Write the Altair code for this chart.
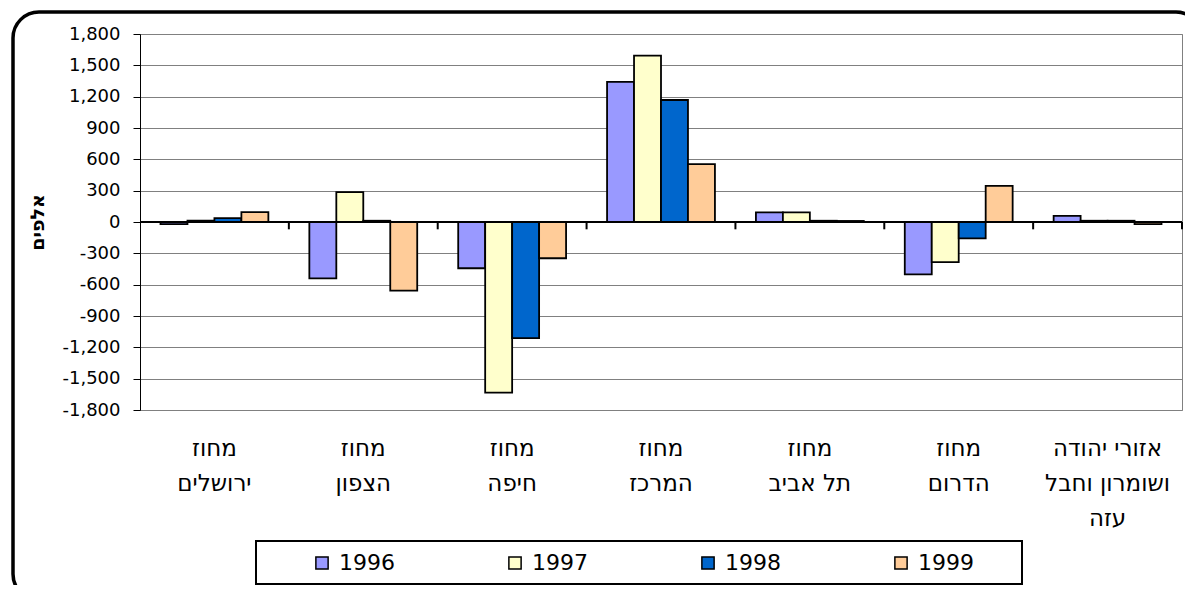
import altair as alt
import pandas as pd

# ---- data ----
categories = ["מחוז|ירושלים", "מחוז|הצפון", "מחוז|חיפה", "מחוז|המרכז",
              "מחוז|תל אביב", "מחוז|הדרום", "אזורי יהודה|ושומרון וחבל|עזה"]
years = ["1996", "1997", "1998", "1999"]
v1996 = [-20, -540, -443, 1341, 93, -502, 58]
v1997 = [12, 286, -1633, 1593, 93, -384, 12]
v1998 = [38, 12, -1111, 1168, 12, -156, 12]
v1999 = [94, -657, -347, 554, 10, 346, -20]
colors = ["#9999FF", "#FFFFCC", "#0066CC", "#FFCC99"]
y_ticks = [-1800, -1500, -1200, -900, -600, -300, 0, 300, 600, 900, 1200, 1500, 1800]
y_title = "אלפים"

rows = []
for yr, vals in zip(years, [v1996, v1997, v1998, v1999]):
    for c, v in zip(categories, vals):
        rows.append({"cat": c, "year": yr, "value": v})
df = pd.DataFrame(rows)
cat_df = pd.DataFrame({"cat": categories})

W, H = 1042, 376
FONT = "DejaVu Sans"

x_scale = alt.Scale(domain=categories, paddingInner=0, paddingOuter=0)
y_scale = alt.Scale(domain=[-1800, 1800], nice=False)

x_axis = alt.Axis(orient="bottom", domain=False, ticks=False, grid=False,
                  labelAngle=0, labelExpr="split(datum.label, '|')",
                  labelFont=FONT, labelFontSize=23, labelColor="black",
                  labelPadding=27, labelBaseline="top", labelLineHeight=35)
y_axis = alt.Axis(values=y_ticks,
                  labelExpr="(datum.value < 0 ? '-' : '') + format(abs(datum.value), ',d')",
                  labelFont=FONT, labelFontSize=18,
                  labelColor="black", labelOverlap=False, labelFlush=False,
                  domainColor="black", domainWidth=1, tickColor="black",
                  tickSize=7, labelPadding=13, gridColor="#808080", gridWidth=1,
                  titleFont=FONT, titleFontSize=19, titleFontWeight="bold",
                  titleColor="black", titlePadding=14)

bars = alt.Chart(df).mark_bar(stroke="black", strokeWidth=1.8).encode(
    x=alt.X("cat:N", scale=x_scale, sort=categories, title=None, axis=x_axis),
    xOffset=alt.XOffset("year:N", sort=years,
                        scale=alt.Scale(paddingInner=0, paddingOuter=0.76)),
    y=alt.Y("value:Q", scale=y_scale, title=y_title, axis=y_axis),
    color=alt.Color("year:N", scale=alt.Scale(domain=years, range=colors),
                    legend=alt.Legend(title=None, orient="none", legendX=171, legendY=518,
                                      direction="horizontal", columns=4, columnPadding=109,
                                      symbolType="square", symbolSize=150,
                                      symbolStrokeColor="black", symbolStrokeWidth=1.5,
                                      labelFont=FONT, labelFontSize=22, labelColor="black",
                                      labelOffset=6, padding=0)),
)

# zero line across the plot
zero_line = alt.Chart(alt.Data(values=[{"k": 1}])).mark_rule(
    color="black", strokeWidth=2
).encode(y=alt.YDatum(0, scale=y_scale, title=y_title, axis=y_axis))

# small category separator ticks hanging below the zero line
sep_ticks = alt.Chart(cat_df).mark_rule(color="black", strokeWidth=2).encode(
    x=alt.X("cat:N", scale=x_scale, sort=categories, bandPosition=1, title=None, axis=x_axis),
    y=alt.YDatum(0, scale=y_scale, title=y_title, axis=y_axis),
    y2=alt.Y2Datum(-70),
)

frame = alt.Chart(alt.Data(values=[{"k": 1}])).mark_rect(
    filled=False, stroke="black", strokeWidth=3.5, cornerRadius=26
).encode(x=alt.value(-127), x2=alt.value(1062), y=alt.value(-22), y2=alt.value(566))

legend_box = alt.Chart(alt.Data(values=[{"k": 1}])).mark_rect(
    filled=False, stroke="black", strokeWidth=2
).encode(x=alt.value(116), x2=alt.value(882), y=alt.value(507), y2=alt.value(550))

chart = alt.layer(bars, zero_line, sep_ticks, frame, legend_box).properties(
    width=W, height=H,
    autosize=alt.AutoSizeParams(type="none"),
    padding={"left": 132, "top": 26, "right": 3, "bottom": 175},
).configure_view(stroke="#808080", strokeWidth=1)

chart.save("out.html", embed_options={"renderer": "svg", "actions": False})
